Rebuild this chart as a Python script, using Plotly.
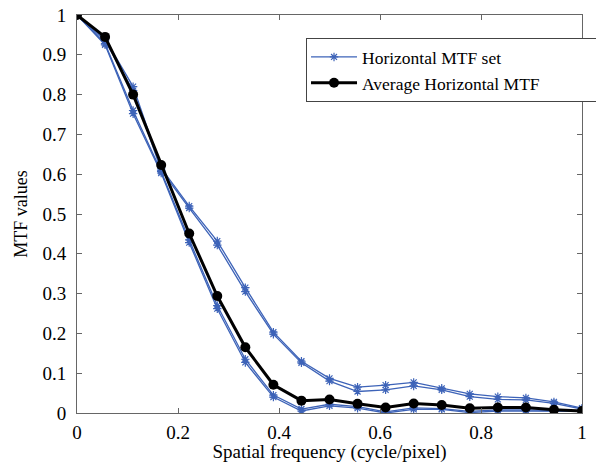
import plotly.graph_objects as go

freq = [k / 18 for k in range(19)]
set_upper1 = [1, 0.94, 0.82, 0.615, 0.52, 0.432, 0.315, 0.203, 0.13, 0.087, 0.065, 0.070, 0.077, 0.062, 0.048, 0.041, 0.038, 0.028, 0.012]
set_upper2 = [1, 0.935, 0.81, 0.61, 0.515, 0.422, 0.305, 0.198, 0.126, 0.080, 0.054, 0.058, 0.068, 0.058, 0.041, 0.034, 0.033, 0.024, 0.010]
set_lower1 = [1, 0.928, 0.76, 0.607, 0.435, 0.27, 0.135, 0.045, 0.010, 0.022, 0.016, 0.003, 0.013, 0.011, 0.004, 0.008, 0.008, 0.007, 0.005]
set_lower2 = [1, 0.925, 0.752, 0.603, 0.428, 0.262, 0.127, 0.040, 0.005, 0.018, 0.012, 0.000, 0.009, 0.009, 0.001, 0.005, 0.005, 0.004, 0.004]
average = [1, 0.945, 0.80, 0.623, 0.451, 0.294, 0.165, 0.071, 0.031, 0.034, 0.023, 0.014, 0.024, 0.020, 0.012, 0.014, 0.014, 0.008, 0.005]

mtf_set = [set_upper1, set_upper2, set_lower1, set_lower2]

blue = "#3d63b8"
fig = go.Figure()
for i, s in enumerate(mtf_set):
    fig.add_trace(go.Scatter(
        x=freq, y=s, mode="lines+markers",
        line=dict(color=blue, width=1.3),
        marker=dict(symbol="asterisk-open", size=7, color=blue, line=dict(color=blue, width=1.2)),
        name="Horizontal MTF set", showlegend=(i == 0), legendgroup="set"))

fig.add_trace(go.Scatter(
    x=freq, y=average, mode="lines+markers",
    line=dict(color="black", width=3),
    marker=dict(symbol="circle", size=10, color="black"),
    name="Average Horizontal MTF"))

font = dict(family="Liberation Serif, Times New Roman, serif", color="black")
fig.update_layout(
    width=596, height=463,
    margin=dict(l=77, r=14, t=15, b=50, autoexpand=False),
    paper_bgcolor="white", plot_bgcolor="white",
    font=dict(size=19, **font),
    legend=dict(x=0.4535, y=0.942, xanchor="left", yanchor="top",
                orientation="h",
                bordercolor="#444", borderwidth=1, bgcolor="white",
                font=dict(size=17.5, **font), tracegroupgap=0,
                itemwidth=46, entrywidth=237, entrywidthmode="pixels"),
    xaxis=dict(range=[0, 1], tickvals=[0, 0.2, 0.4, 0.6, 0.8, 1],
               ticktext=["0", "0.2", "0.4", "0.6", "0.8", "1"],
               ticks="inside", ticklen=5, tickcolor="#666",
               showline=True, linecolor="#666", linewidth=1, mirror="ticks",
               showgrid=False, zeroline=False, automargin=False,
               ticklabeloverflow="allow",
               tickfont=dict(size=19, **font), ticklabelstandoff=2,
               title=dict(text="Spatial frequency (cycle/pixel)", font=dict(size=19, **font), standoff=0)),
    yaxis=dict(range=[0, 1], tickvals=[i / 10 for i in range(11)],
               ticktext=["0", "0.1", "0.2", "0.3", "0.4", "0.5", "0.6", "0.7", "0.8", "0.9", "1"],
               ticks="inside", ticklen=5, tickcolor="#666",
               showline=True, linecolor="#666", linewidth=1, mirror="ticks",
               showgrid=False, zeroline=False, automargin=False,
               ticklabeloverflow="allow",
               tickfont=dict(size=19, **font), ticklabelstandoff=6,
               title=dict(text="MTF values", font=dict(size=18, **font), standoff=10)),
)

# remove the page's default 8px body margin so the figure fills the window exactly
fig.write_html("out.html", config={"displayModeBar": False},
               post_script="document.body.style.margin='0';")
